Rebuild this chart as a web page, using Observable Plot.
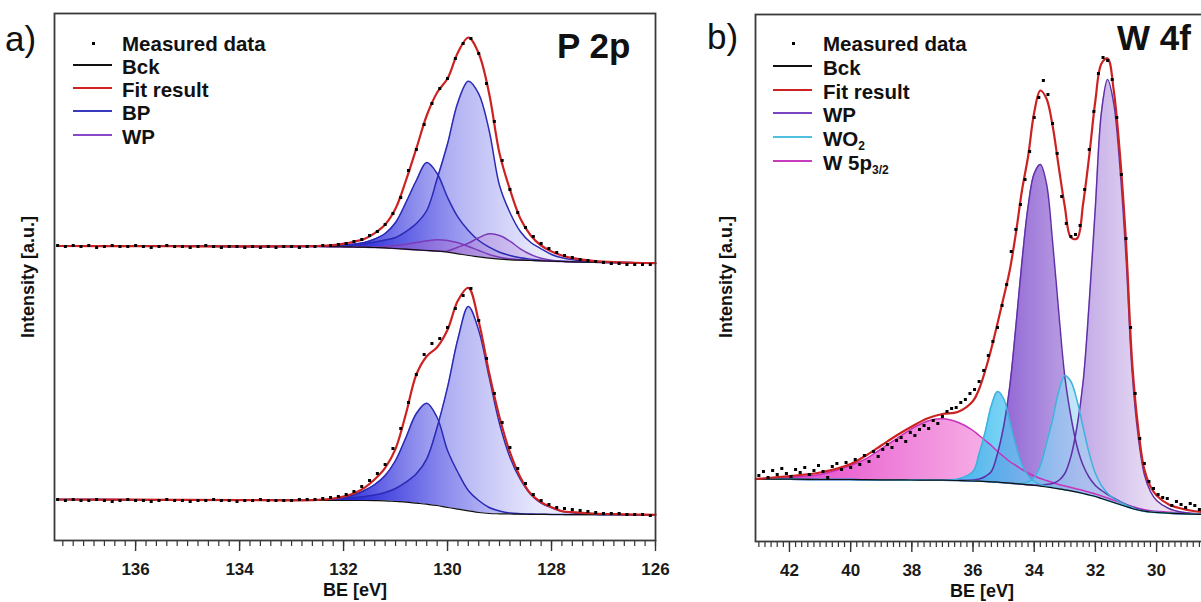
<!DOCTYPE html>
<html>
<head>
<meta charset="utf-8">
<script src="https://cdn.jsdelivr.net/npm/d3@7"></script>
<script src="https://cdn.jsdelivr.net/npm/@observablehq/plot@0.6"></script>
<style>
html,body{margin:0;padding:0;background:#fff;overflow:hidden}
#wrap{position:relative;width:1201px;height:602px;overflow:hidden;font-family:"Liberation Sans",Arial,sans-serif;color:#111}
#wrap svg{max-width:none !important;overflow:visible}
.abs{position:absolute;white-space:nowrap;line-height:1}
.leg{font-size:20.5px;font-weight:bold}
.leg sub{font-size:12px;vertical-align:-3.5px;line-height:0}
.ttl{font-size:35px;font-weight:bold}
.pl{font-size:35px;font-weight:normal}
.axt{font-size:18px;font-weight:bold}
</style>
</head>
<body>
<div id="wrap">
  <div id="pa" class="abs" style="left:0;top:0;width:680px;height:602px"></div>
  <div id="pb" class="abs" style="left:700px;top:0;width:530px;height:602px"></div>
</div>
<script>
// ===================== DATA =====================
// ---- Panel a) P 2p : energy grid of the fitted curves (eV)
const eA = [137.5, 136, 135, 134, 133, 132.5, 132.2, 132.0, 131.8, 131.6, 131.4, 131.2, 131.0, 130.8, 130.6, 130.4, 130.2, 130.0, 129.8, 129.6, 129.4, 129.2, 129.0, 128.8, 128.6, 128.4, 128.2, 128.0, 127.8, 127.6, 127.2, 126.8, 126.4, 126.0];
// upper spectrum (intensity, a.u.)
const aTopBck = [294.5, 294.3, 294.2, 294.1, 294, 294, 293.8, 293.7, 293.5, 293.3, 293, 292.7, 292, 291.3, 290.7, 290, 289.3, 288.3, 286.7, 285, 283.7, 282.3, 281.3, 280.7, 280.3, 280, 279.7, 279.3, 279, 278.7, 278.3, 278, 277.7, 277.3];
const aTopFit = [294.5, 294.3, 294.2, 294.1, 294.2, 294.5, 295.3, 296.8, 298.8, 301.5, 307.3, 316, 332, 360, 392, 425, 448, 462, 488, 503, 487, 447, 387, 351, 322, 305, 295, 289, 285, 282.3, 279.7, 278.3, 277.7, 277.3];
const aTopBP1 = [294.5, 294.3, 294.2, 294.1, 294.1, 294.2, 294.5, 295, 295.8, 296.8, 298.5, 300.5, 303, 309, 317, 330, 361.7, 396.7, 438.3, 459.3, 446.7, 410, 355, 328, 309, 298, 291.7, 286, 282.7, 280.7, 278.7, 278, 277.7, 277.3];
const aTopBP2 = [294.5, 294.3, 294.2, 294.1, 294.2, 294.4, 294.8, 295.5, 296.5, 298, 301.5, 307, 318, 338, 360, 378, 367, 343, 323.3, 310, 300, 293.3, 288.3, 285, 282.7, 281.3, 280.3, 279.7, 279.2, 278.8, 278.3, 278, 277.7, 277.3];
const aTopWP1 = [294.5, 294.3, 294.2, 294.1, 294, 294, 293.8, 293.7, 293.5, 293.3, 293.3, 294, 295, 296.3, 298, 299.7, 300.7, 300, 297.7, 294, 290, 286, 283.3, 281.7, 280.7, 280.2, 279.8, 279.3, 279, 278.7, 278.3, 278, 277.7, 277.3];
const aTopWP2 = [294.5, 294.3, 294.2, 294.1, 294, 294, 293.8, 293.7, 293.5, 293.3, 293, 292.7, 292, 291.3, 290.7, 290, 289.4, 289.5, 293.3, 297.3, 302.7, 306.7, 305, 299.3, 291.7, 286, 282.3, 280.3, 279.3, 278.7, 278.3, 278, 277.7, 277.3];
// lower spectrum
const aBotBck = [41, 40.8, 40.6, 40.4, 40.2, 40, 40, 40, 40, 40, 39.9, 39.7, 39, 38.3, 37.3, 36.3, 35, 33, 31.3, 29.7, 28, 27, 26.7, 26.5, 26.3, 26.2, 26.1, 26, 26, 25.9, 25.9, 25.8, 25.8, 25.7];
const aBotFit = [41, 40.8, 40.6, 40.4, 40.2, 40.7, 42, 44, 47.3, 52.7, 61.3, 72.7, 91.7, 126.7, 166, 184.3, 193.3, 210.7, 240, 252.7, 219, 167.7, 123.3, 88.3, 63.3, 46.7, 38.3, 33.3, 29.3, 28.3, 27, 26.3, 26, 25.7];
const aBotBP1 = [41, 40.8, 40.6, 40.4, 40.2, 40.3, 41, 41.8, 42.8, 44, 45.5, 48, 52, 58.3, 66.7, 81.7, 113.3, 153.3, 201.7, 234, 210, 163.3, 116.7, 83.3, 61, 46, 37.5, 32.8, 29.3, 27.7, 26.3, 26, 25.8, 25.7];
const aBotBP2 = [41, 40.8, 40.6, 40.4, 40.2, 40.3, 41.3, 42.7, 45.5, 50, 56, 65, 80, 103, 127, 137.3, 123, 90, 68, 50, 40, 33, 29.5, 27.5, 26.8, 26.4, 26.2, 26, 26, 25.9, 25.9, 25.8, 25.8, 25.7];
// measured data (energy channels and counts)
const eAdots = [137.5, 137.35, 137.2, 137.05, 136.9, 136.75, 136.6, 136.45, 136.3, 136.15,
  136.0, 135.85, 135.7, 135.55, 135.4, 135.25, 135.1, 134.95, 134.8, 134.65,
  134.5, 134.35, 134.2, 134.05, 133.9, 133.75, 133.6, 133.45, 133.3, 133.15,
  133.0, 132.85, 132.7, 132.55, 132.4, 132.25, 132.1, 131.95, 131.8, 131.65,
  131.5, 131.35, 131.2, 131.05, 130.9, 130.75, 130.6, 130.45, 130.3, 130.15,
  130.0, 129.85, 129.7, 129.55, 129.4, 129.25, 129.1, 128.95, 128.8, 128.65,
  128.5, 128.35, 128.2, 128.05, 127.9, 127.75, 127.6, 127.45, 127.3, 127.15,
  127.0, 126.85, 126.7, 126.55, 126.4, 126.25, 126.1];
const aTopDots = [295, 294, 295, 294, 295, 293, 294, 295, 294, 294,
  295, 294, 293, 294, 295, 294, 294, 293, 294, 295,
  294, 293, 294, 294, 293, 294, 293, 294, 293, 294,
  294, 293, 294, 294, 295, 295, 296, 297, 299, 301,
  305, 309, 316, 327, 343, 370, 391, 416, 437, 452,
  462, 482, 497, 502, 487, 457, 419, 380, 351, 328,
  313, 304, 297, 292, 288, 285, 283, 281, 280, 279,
  278, 277, 277, 276, 276, 276, 276];
const aBotDots = [41, 40, 41, 40, 40, 41, 40, 39, 40, 41,
  40, 40, 39, 40, 41, 40, 40, 39, 40, 40,
  41, 40, 40, 39, 40, 40, 41, 40, 40, 40,
  40, 41, 41, 41, 42, 43, 44, 46, 49, 54,
  60, 67, 76, 92, 112, 138, 166, 186, 197, 202,
  213, 232, 245, 252, 220, 182, 147, 118, 93, 72,
  57, 46, 40, 36, 33, 32, 31, 30, 29, 28,
  27, 27, 27, 26, 26, 26, 25];

// ---- Panel b) W 4f
const eB = [43.1, 42, 41, 40, 39.5, 39, 38.5, 38, 37.5, 37, 36.5, 36, 35.8, 35.6, 35.4, 35.2, 35.0, 34.8, 34.6, 34.4, 34.2, 34.0, 33.8, 33.6, 33.4, 33.2, 33.0, 32.8, 32.6, 32.4, 32.2, 32.0, 31.8, 31.6, 31.4, 31.2, 31.0, 30.8, 30.6, 30.4, 30.2, 30.0, 29.6, 29.2, 28.8, 28.3];
const bBck = [62.5, 62.3, 62, 62, 61.8, 61.7, 61.6, 61.5, 61.4, 61.3, 61, 60.5, 60.3, 60, 59.7, 59.3, 58.8, 58.3, 57.8, 57.3, 56.7, 56, 55.3, 54.5, 53.6, 52.7, 51.7, 50.7, 49.4, 48, 46.5, 45, 43, 41, 39, 37, 35, 33, 31.5, 30.3, 29.5, 29, 28.3, 27.8, 27.4, 27];
const bFit = [62.5, 65.5, 69, 77.5, 86, 96, 106, 115, 123, 127.5, 129.5, 140.5, 152.5, 171, 193, 218, 244, 271, 308, 351, 385, 429, 451, 443, 416, 375, 335, 304, 303, 338, 386, 441, 478, 483, 451, 388, 300, 180, 113, 72, 55, 46, 37, 33, 30.5, 29];
const bW5p = [62.7, 64.3, 67, 76, 82.7, 92.7, 102.7, 112.7, 120.3, 122.7, 119.3, 111, 106, 101, 96, 90, 85, 80, 76, 72, 68.5, 65.5, 63, 61, 59, 57, 55.5, 54, 52.5, 51, 49.3, 47.5, 45.5, 43.5, 41.3, 39, 37, 35, 33.2, 31.8, 30.8, 30.2, 29.3, 28.5, 28, 27.5];
const bWO2a = [62.5, 62.3, 62, 62, 61.8, 61.7, 61.6, 61.5, 61.4, 61.3, 62.5, 70, 88, 110, 136, 150, 143, 120, 96, 77, 66, 60, 57, 55.3, 54, 52.9, 51.8, 50.7, 49.4, 48, 46.5, 45, 43, 41, 39, 37, 35, 33, 31.5, 30.3, 29.5, 29, 28.3, 27.8, 27.4, 27];
const bWO2b = [62.5, 62.3, 62, 62, 61.8, 61.7, 61.6, 61.5, 61.4, 61.3, 61, 60.5, 60.3, 60, 59.7, 59.3, 58.8, 58.3, 58, 58, 59.5, 64, 76, 98, 122, 150, 166, 160, 141, 114, 88, 68, 56, 48, 43, 39.5, 36.5, 34, 31.5, 30.3, 29.5, 29, 28.3, 27.8, 27.4, 27];
const bWP1 = [62.5, 62.3, 62, 62, 61.8, 61.7, 61.6, 61.5, 61.4, 61.3, 61.2, 61.5, 62.5, 65, 70, 88, 115, 155, 215, 280, 335, 368, 377, 358, 300, 230, 165, 125, 95, 76, 64, 56, 51, 47, 43.5, 40, 37, 34.5, 32.5, 31, 30, 29.3, 28.3, 27.8, 27.4, 27];
const bWP2 = [62.5, 62.3, 62, 62, 61.8, 61.7, 61.6, 61.5, 61.4, 61.3, 61, 60.5, 60.3, 60, 59.7, 59.3, 58.8, 58.3, 57.8, 57.3, 56.7, 56.5, 56.5, 57, 58, 61, 68, 85, 115, 160, 240, 335, 430, 462, 438, 375, 285, 170, 105, 67, 50, 41, 33, 29.5, 28, 27.2];
const eBdots = [43.0, 42.85, 42.7, 42.55, 42.4, 42.25, 42.1, 41.95, 41.8, 41.65,
  41.5, 41.35, 41.2, 41.05, 40.9, 40.75, 40.6, 40.45, 40.3, 40.15,
  40.0, 39.85, 39.7, 39.55, 39.4, 39.25, 39.1, 38.95, 38.8, 38.65,
  38.5, 38.35, 38.2, 38.05, 37.9, 37.75, 37.6, 37.45, 37.3, 37.15,
  37.0, 36.85, 36.7, 36.55, 36.4, 36.25, 36.1, 35.95, 35.8, 35.65,
  35.5, 35.35, 35.2, 35.05, 34.9, 34.75, 34.6, 34.45, 34.3, 34.15,
  34.0, 33.85, 33.7, 33.55, 33.4, 33.25, 33.1, 32.95, 32.8, 32.65,
  32.5, 32.35, 32.2, 32.05, 31.9, 31.75, 31.6, 31.45, 31.3, 31.15,
  31.0, 30.85, 30.7, 30.55, 30.4, 30.25, 30.1, 29.95, 29.8, 29.65,
  29.5, 29.35, 29.2, 29.05, 28.9, 28.75, 28.6, 28.45];
const bDots = [66, 70, 64, 71, 67, 73, 68, 65, 72, 69,
  74, 67, 71, 76, 70, 64, 75, 78, 72, 79,
  74, 82, 77, 86, 80, 90, 85, 92, 97, 94,
  101, 104, 100, 109, 106, 112, 116, 113, 121, 118,
  125, 130, 133, 134, 139, 142, 148, 152, 160, 171,
  186, 200, 214, 236, 257, 290, 312, 337, 362, 390,
  424, 444, 461, 447, 418, 388, 345, 318, 305, 307,
  316, 352, 392, 430, 468, 484, 481, 462, 424, 367,
  303, 214, 148, 103, 78, 60, 53, 47, 44, 43,
  36, 40, 37, 34, 38, 36, 32, 33];

// ---- axes and legend texts
const ticksA = [136, 134, 132, 130, 128, 126];
const ticksB = [42, 40, 38, 36, 34, 32, 30];
const minorA = d3.range(630, 688).map(k => k / 5);
const minorB = d3.range(142, 216).map(k => k / 5);
const legendA = ["Measured data", "Bck", "Fit result", "BP", "WP"];
const legendB = ["Measured data", "Bck", "Fit result", "WP", "WO_2", "W 5p_3/2"];
const xTitle = "BE [eV]";
const yTitle = "Intensity [a.u.]";

// ===================== STYLE =====================
const C = {fit: "#cc2222", bck: "#111111", bp: "#2a2ab4", wpA: "#7a3cb8", wpB: "#6030a8", wo2: "#3fb2dc", w5p: "#c832bc"};
const swA = ["dot", "#111", "#cc2222", "#3a3ac0", "#8a48c8"];
const swB = ["dot", "#111", "#cc2222", "#7a45c0", "#50bfe0", "#c83cc0"];
const CURVE = "catmull-rom";
const FONT = '"Liberation Sans", Arial, sans-serif';

function rows(e, base, vals) { return e.map((x, i) => ({e: x, b: base[i], v: vals[i]})); }
function area(e, base, vals, fill) { return Plot.areaY(rows(e, base, vals), {x: "e", y1: "b", y2: "v", fill, curve: CURVE}); }
function line(e, vals, stroke, sw) { return Plot.line(rows(e, vals, vals), {x: "e", y: "v", stroke, strokeWidth: sw, curve: CURVE}); }
function dots(e, vals) { return Plot.dot(rows(e, vals, vals), {x: "e", y: "v", symbol: "square", r: 1.7, fill: "#000", stroke: null}); }
function axes(major, minor) {
  return [
    Plot.axisX(minor, {tickSize: 6, tickFormat: () => "", stroke: "#333", strokeWidth: 1.2, label: null}),
    Plot.axisX(major, {tickSize: 11, tickPadding: 11, fontSize: 17, fontWeight: "bold", stroke: "#333", strokeWidth: 1.4, label: null}),
    Plot.frame({stroke: "#3a3a3a", strokeWidth: 1.8})
  ];
}
function addGradients(svg, grads) {
  const sx = svg.scale("x");
  const defs = d3.create("svg:defs");
  for (const g of grads) {
    const lg = defs.append("linearGradient").attr("id", g.id).attr("gradientUnits", "userSpaceOnUse")
      .attr("x1", sx.apply(g.from)).attr("x2", sx.apply(g.to)).attr("y1", 0).attr("y2", 0);
    for (const [o, c, a] of g.stops) lg.append("stop").attr("offset", o).attr("stop-color", c).attr("stop-opacity", a);
  }
  svg.insertBefore(defs.node(), svg.firstChild);
}
const plotStyle = {fontFamily: FONT, fontSize: "17px", fontWeight: "bold", color: "#1a1a1a", background: "transparent"};

// ===================== PANEL a =====================
const svgA = Plot.plot({
  width: 680, height: 602, marginLeft: 54, marginRight: 25, marginTop: 13, marginBottom: 62,
  x: {domain: [137.56, 126]}, y: {domain: [0, 527], axis: null},
  style: plotStyle,
  marks: [
    area(eA, aTopBck, aTopBP2, "url(#gA_BP)"),
    area(eA, aTopBck, aTopBP1, "url(#gA_BP)"),
    area(eA, aTopBck, aTopWP1, "url(#gA_WP)"),
    area(eA, aTopBck, aTopWP2, "url(#gA_WP)"),
    area(eA, aBotBck, aBotBP2, "url(#gA_BP)"),
    area(eA, aBotBck, aBotBP1, "url(#gA_BP)"),
    line(eA, aTopBP2, C.bp, 1.5), line(eA, aTopBP1, C.bp, 1.5),
    line(eA, aTopWP1, C.wpA, 1.5), line(eA, aTopWP2, C.wpA, 1.5),
    line(eA, aBotBP2, C.bp, 1.5), line(eA, aBotBP1, C.bp, 1.5),
    line(eA, aTopBck, C.bck, 1.2), line(eA, aBotBck, C.bck, 1.2),
    line(eA, aTopFit, C.fit, 2.2), line(eA, aBotFit, C.fit, 2.2),
    dots(eAdots, aTopDots), dots(eAdots, aBotDots),
    ...axes(ticksA, minorA)
  ]
});
addGradients(svgA, [
  {id: "gA_BP", from: 131.8, to: 128.2, stops: [[0, "rgb(40,40,218)", 0.9], [0.5, "rgb(120,120,235)", 0.6], [1, "rgb(215,215,250)", 0.55]]},
  {id: "gA_WP", from: 131, to: 128.5, stops: [[0, "rgb(140,80,200)", 0.55], [1, "rgb(200,170,230)", 0.5]]}
]);
document.getElementById("pa").appendChild(svgA);

// ===================== PANEL b =====================
const svgB = Plot.plot({
  width: 530, height: 602, marginLeft: 55, marginRight: 21, marginTop: 14, marginBottom: 61,
  x: {domain: [43.11, 28.27]}, y: {domain: [0, 527], axis: null},
  style: plotStyle,
  marks: [
    area(eB, bBck, bW5p, "url(#gB_W5p)"),
    area(eB, bBck, bWP1, "url(#gB_WP)"),
    area(eB, bBck, bWP2, "url(#gB_WP)"),
    area(eB, bBck, bWO2a, "url(#gB_WO2)"),
    area(eB, bBck, bWO2b, "url(#gB_WO2)"),
    line(eB, bW5p, C.w5p, 1.5),
    line(eB, bWP1, C.wpB, 1.5), line(eB, bWP2, C.wpB, 1.5),
    line(eB, bWO2a, C.wo2, 1.5), line(eB, bWO2b, C.wo2, 1.5),
    line(eB, bBck, C.bck, 1.2),
    line(eB, bFit, C.fit, 2.2),
    dots(eBdots, bDots),
    ...axes(ticksB, minorB)
  ]
});
addGradients(svgB, [
  {id: "gB_W5p", from: 43, to: 35.5, stops: [[0, "rgb(225,45,195)", 0.95], [1, "rgb(245,160,225)", 0.85]]},
  {id: "gB_WO2", from: 36, to: 32.5, stops: [[0, "rgb(55,190,240)", 0.85], [1, "rgb(160,215,245)", 0.6]]},
  {id: "gB_WP", from: 35, to: 30, stops: [[0, "rgb(125,75,205)", 0.85], [1, "rgb(225,210,240)", 0.7]]}
]);
document.getElementById("pb").appendChild(svgB);

// ===================== TEXT OVERLAYS =====================
const wrap = document.getElementById("wrap");
function addText(html, cls, css) {
  const d = document.createElement("div");
  d.className = "abs " + cls; d.style.cssText = css; d.innerHTML = html;
  wrap.appendChild(d); return d;
}
function addLegend(labels, sw, x0, textX, top0, step) {
  labels.forEach((lab, i) => {
    const y = top0 + i * step;
    addText(lab.replace(/_(\S+)/, "<sub>$1</sub>"), "leg", `left:${textX}px;top:${y}px`);
    if (sw[i] === "dot") addText("", "", `left:${x0 + 18.5}px;top:${y + 8}px;width:3px;height:3px;background:#000`);
    else addText("", "", `left:${x0}px;top:${y + 7}px;width:39px;height:2px;background:${sw[i]}`);
  });
}
addLegend(legendA, swA, 73, 122, 33.5, 23.3);
addLegend(legendB, swB, 773, 823, 34, 23.8);
addText("a)", "pl", "left:5px;top:21px");
addText("b)", "pl", "left:707px;top:19px");
addText("P 2p", "ttl", "left:557px;top:28px");
addText("W 4f", "ttl", "left:1117px;top:20px");
addText(xTitle, "axt", "left:355px;top:581px;transform:translateX(-50%)");
addText(xTitle, "axt", "left:982px;top:582px;transform:translateX(-50%)");
addText(yTitle, "axt", "left:28px;top:277px;transform:translate(-50%,-50%) rotate(-90deg)");
addText(yTitle, "axt", "left:726px;top:277px;transform:translate(-50%,-50%) rotate(-90deg)");
</script>
</body>
</html>
